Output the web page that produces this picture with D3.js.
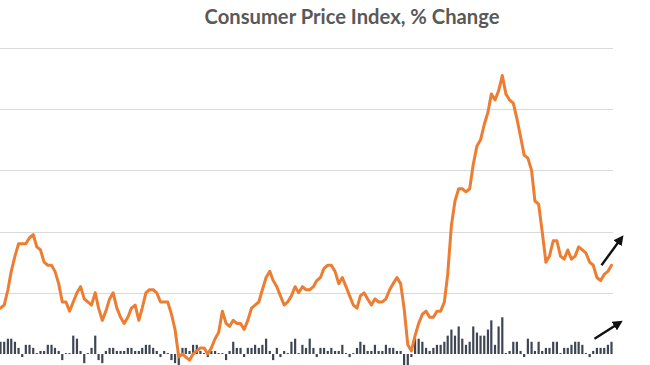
<!DOCTYPE html>
<html>
<head>
<meta charset="utf-8">
<script src="https://cdn.jsdelivr.net/npm/d3@7"></script>
<style>
  html, body { margin: 0; padding: 0; background: #ffffff; }
  svg { display: block; }
</style>
</head>
<body>
<svg id="chart" width="650" height="365"></svg>
<script>
// ---- Data (Dec 2010 .. Dec 2024, monthly) ----
const startMonth = "2010-12";
const endMonth = "2024-12";

// CPI year-over-year % change
const cpiYoY = [
  1.5,
  1.6, 2.1, 2.7, 3.2, 3.6, 3.6, 3.6, 3.8, 3.9, 3.5, 3.4, 3.0,
  2.9, 2.9, 2.7, 2.3, 1.7, 1.7, 1.4, 1.7, 2.0, 2.2, 1.8, 1.7,
  1.6, 2.0, 1.5, 1.1, 1.4, 1.8, 2.0, 1.5, 1.2, 1.0, 1.2, 1.5,
  1.6, 1.1, 1.5, 2.0, 2.1, 2.1, 2.0, 1.7, 1.7, 1.7, 1.3, 0.8,
  -0.1, 0.0, -0.1, -0.2, 0.0, 0.1, 0.2, 0.2, 0.0, 0.2, 0.5, 0.7,
  1.4, 1.0, 0.9, 1.1, 1.0, 1.0, 0.8, 1.1, 1.5, 1.6, 1.7, 2.1,
  2.5, 2.7, 2.4, 2.2, 1.9, 1.6, 1.7, 1.9, 2.2, 2.0, 2.2, 2.1,
  2.1, 2.2, 2.4, 2.5, 2.8, 2.9, 2.9, 2.7, 2.3, 2.5, 2.2, 1.9,
  1.6, 1.5, 1.9, 2.0, 1.8, 1.6, 1.8, 1.7, 1.7, 1.8, 2.1, 2.3,
  2.5, 2.3, 1.5, 0.3, 0.1, 0.6, 1.0, 1.3, 1.4, 1.2, 1.2, 1.4,
  1.4, 1.7, 2.6, 4.2, 5.0, 5.4, 5.4, 5.3, 5.4, 6.2, 6.8, 7.0,
  7.5, 7.9, 8.5, 8.3, 8.6, 9.1, 8.5, 8.3, 8.2, 7.7, 7.1, 6.5,
  6.4, 6.0, 5.0, 4.9, 4.0, 3.0, 3.2, 3.7, 3.7, 3.2, 3.1, 3.4,
  3.1, 3.2, 3.5, 3.4, 3.3, 3.0, 2.9, 2.5, 2.4, 2.6, 2.7, 2.9
];

// CPI month-over-month % change (seasonally adjusted)
const cpiMoM = [
  0.4,
  0.4, 0.5, 0.5, 0.4, 0.2, -0.1, 0.3, 0.3, 0.2, 0.03, 0.1, 0.1,
  0.3, 0.3, 0.2, 0.1, -0.2, 0.03, 0.03, 0.6, 0.5, 0.1, -0.3, 0.03,
  0.2, 0.6, -0.2, -0.3, 0.1, 0.2, 0.2, 0.1, 0.1, 0.1, 0.2, 0.2,
  0.1, 0.1, 0.2, 0.3, 0.3, 0.2, 0.1, -0.1, 0.1, 0.03, -0.2, -0.3,
  -0.6, 0.2, 0.2, 0.1, 0.3, 0.3, 0.1, 0.03, -0.1, 0.1, 0.1, 0.03,
  0.03, -0.2, 0.1, 0.4, 0.2, 0.2, -0.1, 0.2, 0.2, 0.3, 0.2, 0.3,
  0.5, 0.1, -0.2, 0.2, -0.1, 0.1, 0.03, 0.4, 0.5, 0.03, 0.3, 0.2,
  0.5, 0.2, -0.1, 0.2, 0.2, 0.1, 0.2, 0.1, 0.1, 0.3, 0.03, -0.1,
  0.03, 0.2, 0.4, 0.3, 0.1, 0.1, 0.3, 0.1, 0.1, 0.3, 0.2, 0.2,
  0.1, 0.1, -0.4, -0.7, -0.1, 0.5, 0.5, 0.4, 0.2, 0.1, 0.2, 0.3,
  0.3, 0.4, 0.6, 0.8, 0.6, 0.9, 0.5, 0.3, 0.4, 0.9, 0.7, 0.6,
  0.6, 0.8, 1.1, 0.3, 0.9, 1.2, 0.03, 0.1, 0.4, 0.4, 0.1, -0.1,
  0.5, 0.4, 0.1, 0.4, 0.1, 0.2, 0.2, 0.4, 0.4, 0.03, 0.2, 0.2,
  0.3, 0.4, 0.4, 0.3, 0.03, -0.1, 0.1, 0.2, 0.2, 0.2, 0.3, 0.4
];

// Y gridline values
const gridValues = [2, 4, 6, 8, 10];
const titleText = "Consumer Price Index, % Change";

// ---- Chart ----
const parse = d3.timeParse("%Y-%m");
const months = d3.timeMonth.range(parse(startMonth), d3.timeMonth.offset(parse(endMonth), 1));
const data = months.map((d, i) => ({ date: d, yoy: cpiYoY[i], mom: cpiMoM[i] }));

const svg = d3.select("#chart");
const plotRight = 613;

const x = d3.scaleTime()
  .domain([months[0], months[months.length - 1]])
  .range([0.5, 611.5]);

const y = d3.scaleLinear()
  .domain([0, 10])
  .range([354, 48]);

// gridlines
svg.append("g")
  .selectAll("line")
  .data(gridValues)
  .join("line")
  .attr("x1", -10)
  .attr("x2", plotRight)
  .attr("y1", d => Math.round(y(d)) + 0.5)
  .attr("y2", d => Math.round(y(d)) + 0.5)
  .attr("stroke", "#d9d9d9")
  .attr("stroke-width", 1);

// bars (month-over-month)
const barW = 2.2;
svg.append("g")
  .selectAll("rect")
  .data(data)
  .join("rect")
  .attr("x", d => x(d.date) - barW / 2)
  .attr("width", barW)
  .attr("y", d => Math.min(y(d.mom), y(0)))
  .attr("height", d => Math.abs(y(d.mom) - y(0)))
  .attr("fill", "#3e4653");

// line (year-over-year)
const line = d3.line()
  .x(d => x(d.date))
  .y(d => y(d.yoy));

svg.append("path")
  .datum(data)
  .attr("d", line)
  .attr("fill", "none")
  .attr("stroke", "#ED7D31")
  .attr("stroke-width", 3)
  .attr("stroke-linejoin", "round")
  .attr("stroke-linecap", "round");

// title
const title = svg.append("text")
  .attr("x", 352)
  .attr("y", 24)
  .attr("text-anchor", "middle")
  .attr("font-family", "Lato, 'Open Sans', sans-serif")
  .attr("font-weight", 700)
  .attr("font-size", 18)
  .attr("fill", "#595959")
  .text(titleText);
const tw = title.node().getComputedTextLength();
if (tw > 0) title.attr("font-size", 18 * 295 / tw);

// arrows
const defs = svg.append("defs");
defs.append("marker")
  .attr("id", "ah")
  .attr("viewBox", "0 0 10 10")
  .attr("refX", 5)
  .attr("refY", 5)
  .attr("markerWidth", 4.2)
  .attr("markerHeight", 4.2)
  .attr("orient", "auto")
  .append("path")
  .attr("d", "M0,0 L10,5 L0,10 Z")
  .attr("fill", "#111");

const lastX = x(months[months.length - 1]);
const arrows = [
  { x1: lastX - 10, y1: y(2.9), x2: lastX + 9, y2: y(3.75) },
  { x1: lastX - 17, y1: y(0.5), x2: lastX + 7, y2: y(1.0) }
];
svg.append("g")
  .selectAll("line")
  .data(arrows)
  .join("line")
  .attr("x1", d => d.x1)
  .attr("y1", d => d.y1)
  .attr("x2", d => d.x2)
  .attr("y2", d => d.y2)
  .attr("stroke", "#111")
  .attr("stroke-width", 2.4)
  .attr("marker-end", "url(#ah)");
</script>
</body>
</html>
